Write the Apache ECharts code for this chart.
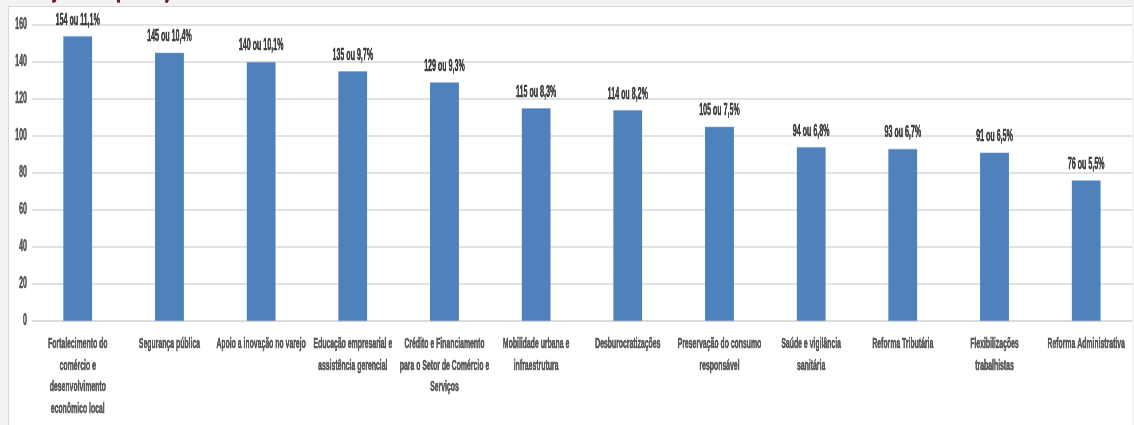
<!DOCTYPE html>
<html>
<head>
<meta charset="utf-8">
<script src="https://cdn.jsdelivr.net/npm/echarts@6/dist/echarts.min.js"></script>
<style>
html,body{margin:0;padding:0;background:#f2f2f2;overflow:hidden;width:1134px;height:425px;}
#chart{width:2552px;height:425px;transform:scaleX(0.44357);transform-origin:0 0;}
</style>
</head>
<body>
<div id="chart"></div>
<script>
var categories = [
  "Fortalecimento do\ncomércio e\ndesenvolvimento\neconômico local",
  "Segurança pública",
  "Apoio a inovação no varejo",
  "Educação empresarial e\nassistência gerencial",
  "Crédito e Financiamento\npara o Setor de Comércio e\nServiços",
  "Mobilidade urbana e\ninfraestrutura",
  "Desburocratizações",
  "Preservação do consumo\nresponsável",
  "Saúde e vigilância\nsanitária",
  "Reforma Tributária",
  "Flexibilizações\ntrabalhistas",
  "Reforma Administrativa"
];
var values = [154, 145, 140, 135, 129, 115, 114, 105, 94, 93, 91, 76];
var percents = ["11,1%", "10,4%", "10,1%", "9,7%", "9,3%", "8,3%", "8,2%", "7,5%", "6,8%", "6,7%", "6,5%", "5,5%"];
var yTicks = [0, 20, 40, 60, 80, 100, 120, 140, 160];

// the page squeezes the drawing horizontally (condensed look of the original)
var K = 2552 / 1134;
var FONT = "'Liberation Sans', Arial, sans-serif";
var chart = echarts.init(document.getElementById('chart'), null, {renderer: 'canvas'});
chart.setOption({
  backgroundColor: '#f2f2f2',
  animation: false,
  graphic: [
    {type: 'text', z: -20, left: 28 * K, top: -38,
     style: {text: 'Objetivos (Geral)', fill: '#6a1c2a', font: "bold 40px 'Liberation Sans'",
             stroke: '#6a1c2a', lineWidth: 1.5}},
    {type: 'rect', z: -10, left: 8 * K, top: 6, shape: {width: 1200 * K, height: 430},
     style: {fill: '#ffffff'}},
    {type: 'line', z: -9, shape: {x1: 8 * K, y1: 6.5, x2: 1134 * K, y2: 6.5},
     style: {stroke: '#d9d9d9', lineWidth: 1}},
    {type: 'line', z: -9, shape: {x1: 8.5 * K, y1: 6, x2: 8.5 * K, y2: 425},
     style: {stroke: '#d9d9d9', lineWidth: K}}
  ],
  grid: {left: 32 * K, right: 0, top: 25, bottom: 104, containLabel: false, outerBoundsMode: 'none'},
  xAxis: {
    type: 'category',
    data: categories,
    axisTick: {show: false},
    axisLine: {lineStyle: {color: '#d9d9d9', width: 1.5}},
    axisLabel: {
      interval: 0, margin: 12, color: '#595959',
      textBorderColor: '#595959', textBorderWidth: 0.7,
      fontFamily: FONT, fontSize: 15.5, fontWeight: 'bold', lineHeight: 21.5
    }
  },
  yAxis: {
    type: 'value',
    min: yTicks[0], max: yTicks[yTicks.length - 1], interval: 20,
    axisLine: {show: false},
    axisTick: {show: false},
    splitLine: {lineStyle: {color: '#d9d9d9', width: 1.5}},
    axisLabel: {color: '#595959', textBorderColor: '#595959', textBorderWidth: 0.6,
                fontFamily: FONT, fontSize: 16, fontWeight: 'bold', margin: 5 * K}
  },
  series: [{
    type: 'bar',
    data: values,
    barWidth: 29 * K,
    itemStyle: {color: '#4f81bd', borderColor: '#7a9fd0', borderWidth: 0.6},
    label: {
      show: true, position: 'top', distance: 8,
      color: '#404040', textBorderColor: '#404040', textBorderWidth: 0.7,
      fontFamily: FONT, fontSize: 16, fontWeight: 'bold',
      formatter: function (p) { return values[p.dataIndex] + ' ou ' + percents[p.dataIndex]; }
    }
  }]
});
</script>
</body>
</html>
